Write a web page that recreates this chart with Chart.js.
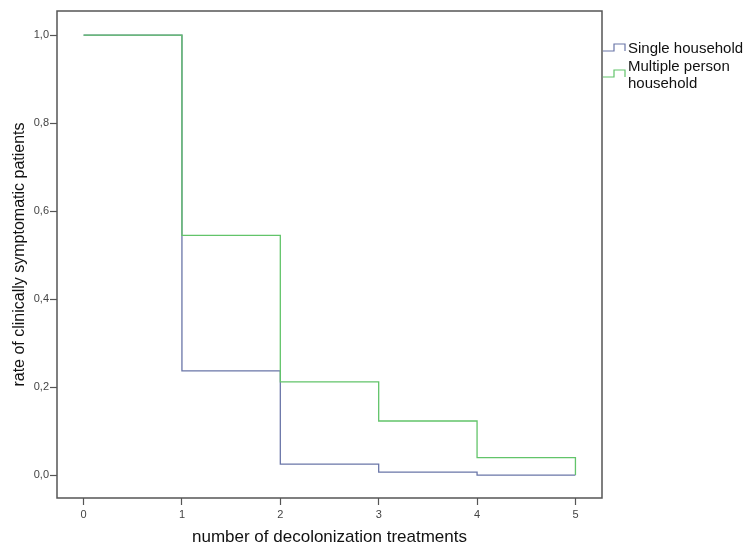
<!DOCTYPE html>
<html>
<head>
<meta charset="utf-8">
<script src="https://cdn.jsdelivr.net/npm/chart.js@4.4.1/dist/chart.umd.min.js"></script>
<style>
  body { margin: 0; background: #fff; }
  #wrap { width: 746px; height: 549px; }
</style>
</head>
<body>
<div id="wrap"><canvas id="myChart"></canvas></div>
<script>
// treatments (x) and survival-type rates
var treatments = [0, 1, 2, 3, 4, 5];
var singleRate = [1.0, 0.237, 0.025, 0.007, 0.0, 0.0];
var multipleRate = [1.0, 0.545, 0.212, 0.123, 0.04, 0.0];
var seriesNames = ["Single household", ["Multiple person", "household"]];
var xTicks = [0, 1, 2, 3, 4, 5];
var yTicks = [0, 0.2, 0.4, 0.6, 0.8, 1.0];
var yTickLabels = ["0,0", "0,2", "0,4", "0,6", "0,8", "1,0"];

var blue = "#6a76a8";
var green = "#62c46a";
var axisColor = "#555555";
var fontFamily = "'Liberation Sans', Arial, sans-serif";

function toPoints(values) {
    return treatments.map(function (t, i) { return { x: t, y: values[i] }; });
}

// box round the plot area plus the legend at the right
var frameAndLegend = {
    id: "frameAndLegend",
    afterDraw: function (chart) {
        var ctx = chart.ctx;
        var a = chart.chartArea;
        ctx.save();
        ctx.strokeStyle = axisColor;
        ctx.lineWidth = 1.5;
        ctx.strokeRect(a.left, a.top, a.right - a.left, a.bottom - a.top);

        ctx.font = "15px " + fontFamily;
        ctx.fillStyle = "#111";
        ctx.textBaseline = "middle";
        ctx.lineWidth = 1.2;

        var x0 = a.right + 1;
        // single household icon
        ctx.strokeStyle = blue;
        ctx.beginPath();
        ctx.moveTo(x0, 51);
        ctx.lineTo(x0 + 11, 51);
        ctx.lineTo(x0 + 11, 44);
        ctx.lineTo(x0 + 22, 44);
        ctx.lineTo(x0 + 22, 51);
        ctx.stroke();
        ctx.fillText(seriesNames[0], x0 + 25, 49);

        // multiple person household icon
        ctx.strokeStyle = green;
        ctx.beginPath();
        ctx.moveTo(x0, 77);
        ctx.lineTo(x0 + 11, 77);
        ctx.lineTo(x0 + 11, 70);
        ctx.lineTo(x0 + 22, 70);
        ctx.lineTo(x0 + 22, 77);
        ctx.stroke();
        ctx.fillText(seriesNames[1][0], x0 + 25, 67);
        ctx.fillText(seriesNames[1][1], x0 + 25, 84);
        ctx.restore();
    }
};

var ctx = document.getElementById("myChart").getContext("2d");
var myChart = new Chart(ctx, {
    type: "line",
    data: {
        datasets: [{
            label: "Single household",
            data: toPoints(singleRate),
            borderColor: blue,
            borderWidth: 1.3,
            stepped: "before",
            pointRadius: 0,
            fill: false,
            order: 2
        }, {
            label: "Multiple person household",
            data: toPoints(multipleRate),
            borderColor: green,
            borderWidth: 1.3,
            stepped: "before",
            pointRadius: 0,
            fill: false,
            order: 1
        }]
    },
    options: {
        responsive: true,
        maintainAspectRatio: false,
        animation: false,
        layout: {
            padding: { top: 11, right: 144, left: 0, bottom: 0 }
        },
        plugins: {
            legend: { display: false },
            tooltip: { enabled: false }
        },
        scales: {
            x: {
                type: "linear",
                min: -0.27,
                max: 5.27,
                afterBuildTicks: function (scale) {
                    scale.ticks = xTicks.map(function (v) { return { value: v }; });
                },
                afterFit: function (scale) { scale.height = 51; },
                grid: {
                    drawOnChartArea: false,
                    color: axisColor,
                    tickLength: 7,
                    tickWidth: 1.2
                },
                border: { display: false },
                ticks: {
                    padding: 3,
                    color: "#444",
                    font: { family: fontFamily, size: 11 },
                    callback: function (v) { return String(v); }
                },
                title: {
                    display: true,
                    text: "number of decolonization treatments",
                    color: "#111",
                    font: { family: fontFamily, size: 17 },
                    padding: { top: 0, bottom: 1 }
                }
            },
            y: {
                type: "linear",
                min: -0.052,
                max: 1.055,
                afterBuildTicks: function (scale) {
                    scale.ticks = yTicks.map(function (v) { return { value: v }; });
                },
                afterFit: function (scale) { scale.width = 57; },
                grid: {
                    drawOnChartArea: false,
                    color: axisColor,
                    tickLength: 7,
                    tickWidth: 1.2
                },
                border: { display: false },
                ticks: {
                    padding: 1,
                    color: "#444",
                    font: { family: fontFamily, size: 11 },
                    callback: function (v) {
                        var i = yTicks.indexOf(v);
                        return i >= 0 ? yTickLabels[i] : "";
                    }
                },
                title: {
                    display: true,
                    text: "rate of clinically symptomatic patients",
                    color: "#111",
                    font: { family: fontFamily, size: 16 },
                    padding: { top: 10, bottom: 0 }
                }
            }
        }
    },
    plugins: [frameAndLegend]
});
</script>
</body>
</html>
